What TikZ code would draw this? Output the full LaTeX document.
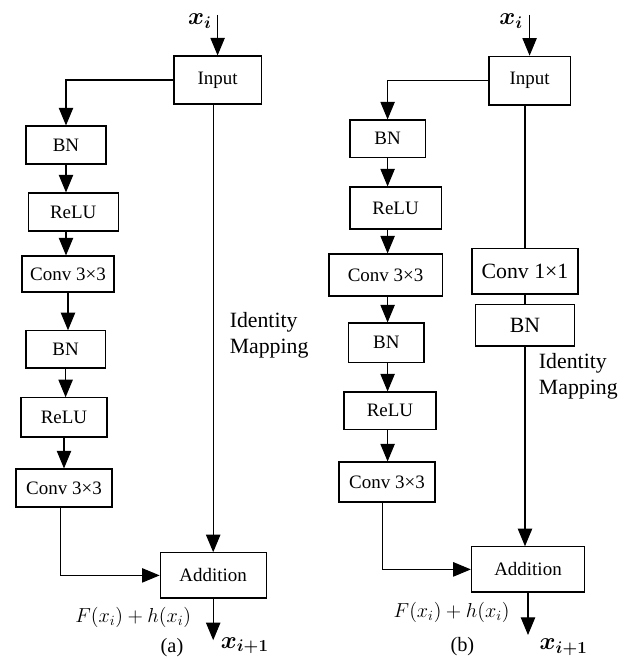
\documentclass[tikz,border=0pt]{standalone}
\usepackage{amsmath}
\usepackage{fontspec}
\setmainfont{Liberation Serif}
\usetikzlibrary{arrows.meta}

\begin{document}
\begin{tikzpicture}[line join=miter,
  box/.style={draw,line width=0.8pt,minimum height=0.95cm,inner sep=0pt,font=\fontsize{13.5}{15}\selectfont},
  arr/.style={line width=0.75pt,-{Triangle[length=0.44cm,width=0.36cm]}},
  ln/.style={line width=0.75pt},
  lbl/.style={font=\fontsize{14.5}{16}\selectfont},
  xlbl/.style={font=\fontsize{17}{19}\selectfont},
  big/.style={font=\fontsize{15.5}{18.6}\selectfont}]
  \useasboundingbox (0,0) rectangle (15.6,16.475);
  % (a)
  \node[box,minimum width=2.18cm,minimum height=1.2cm] (ina) at (5.44,14.475) {Input};
  \node[box,minimum width=2.0cm] (bn1a) at (1.65,12.85) {BN};
  \node[box,minimum width=2.25cm] (relu1a) at (1.83,11.175) {ReLU};
  \node[box,minimum width=2.3cm,minimum height=0.9cm] (conv1a) at (1.7,9.625) {Conv 3×3};
  \node[box,minimum width=1.98cm,minimum height=0.93cm] (bn2a) at (1.64,7.74) {BN};
  \node[box,minimum width=2.15cm,minimum height=0.98cm] (relu2a) at (1.6,6.04) {ReLU};
  \node[box,minimum width=2.4cm] (conv2a) at (1.6,4.275) {Conv 3×3};
  \node[box,minimum width=2.65cm,minimum height=1.13cm] (adda) at (5.33,2.09) {Addition};
  \coordinate (ta) at (5.44,16.1);
  \coordinate (oa) at (5.33,0.47);
  \node[xlbl] (xia) at (5.0,15.95) {$\boldsymbol{x_i}$};
  \node[xlbl] (xoa) at (6.12,0.33) {$\boldsymbol{x_{i+1}}$};
  \node[lbl] (fa) at (3.33,1.05) {$F(x_i)+h(x_i)$};
  \node[lbl] (capa) at (4.3,0.29) {(a)};
  \node[big,align=left,anchor=west] (ida) at (5.62,8.1) {Identity\\Mapping};
  \draw[arr] (ta) -- (ina);
  \draw[arr] (ina.west) -| (bn1a.north);
  \draw[arr] (bn1a) -- (bn1a |- relu1a.north);
  \draw[arr] (relu1a.south -| bn1a) -- (bn1a |- conv1a.north);
  \draw[arr] (conv1a) -- (conv1a |- bn2a.north);
  \draw[arr] (bn2a) -- (bn2a |- relu2a.north);
  \draw[arr] (relu2a) -- (relu2a |- conv2a.north);
  \draw[arr] ([xshift=-0.08cm]conv2a.south) |- (adda.west);
  \draw[arr] (ina.south -| adda) -- (adda);
  \draw[arr] (adda) -- (oa);
  % (b)
  \node[box,minimum width=2.03cm,minimum height=1.22cm] (inb) at (13.24,14.46) {Input};
  \node[box,minimum width=1.88cm,minimum height=0.93cm] (bn1b) at (9.69,13.01) {BN};
  \node[box,minimum width=2.28cm,minimum height=1.05cm] (relu1b) at (9.89,11.275) {ReLU};
  \node[box,minimum width=2.83cm,minimum height=1.05cm] (conv1b) at (9.64,9.6) {Conv 3×3};
  \node[box,minimum width=1.88cm,minimum height=0.98cm] (bn2b) at (9.66,7.91) {BN};
  \node[box,minimum width=2.3cm,minimum height=0.93cm] (relu2b) at (9.75,6.21) {ReLU};
  \node[box,minimum width=2.4cm,minimum height=1.0cm] (conv2b) at (9.675,4.425) {Conv 3×3};
  \node[box,big,minimum width=2.65cm,minimum height=1.13cm] (c11b) at (13.125,9.69) {Conv 1×1};
  \node[box,big,minimum width=2.48cm,minimum height=1.03cm] (bnrb) at (13.125,8.34) {BN};
  \node[box,minimum width=2.83cm,minimum height=1.13cm] (addb) at (13.2,2.24) {Addition};
  \coordinate (tb) at (13.24,16.1);
  \coordinate (ob) at (13.2,0.6);
  \node[xlbl] (xib) at (12.78,15.95) {$\boldsymbol{x_i}$};
  \node[xlbl] (xob) at (14.09,0.3) {$\boldsymbol{x_{i+1}}$};
  \node[lbl] (fb) at (11.29,1.175) {$F(x_i)+h(x_i)$};
  \node[lbl] (capb) at (11.56,0.3) {(b)};
  \node[big,align=left,anchor=west] (idb) at (13.35,7.075) {Identity\\Mapping};
  \draw[arr] (tb) -- (inb);
  \draw[arr] (inb.west) -| (bn1b.north);
  \draw[arr] (bn1b) -- (bn1b |- relu1b.north);
  \draw[arr] (relu1b.south -| bn1b) -- (bn1b |- conv1b.north);
  \draw[arr] (conv1b.south -| bn1b) -- (bn1b |- bn2b.north);
  \draw[arr] (bn2b.south -| bn1b) -- (bn1b |- relu2b.north);
  \draw[arr] (relu2b.south -| bn1b) -- (bn1b |- conv2b.north);
  \draw[arr] ([xshift=-0.12cm]conv2b.south) |- (addb.west);
  \draw[ln] (inb.south -| c11b) -- (c11b);
  \draw[ln] (c11b) -- (bnrb);
  \draw[arr] (bnrb) -- (bnrb |- addb.north);
  \draw[arr] (addb) -- (ob);
\end{tikzpicture}
\end{document}
